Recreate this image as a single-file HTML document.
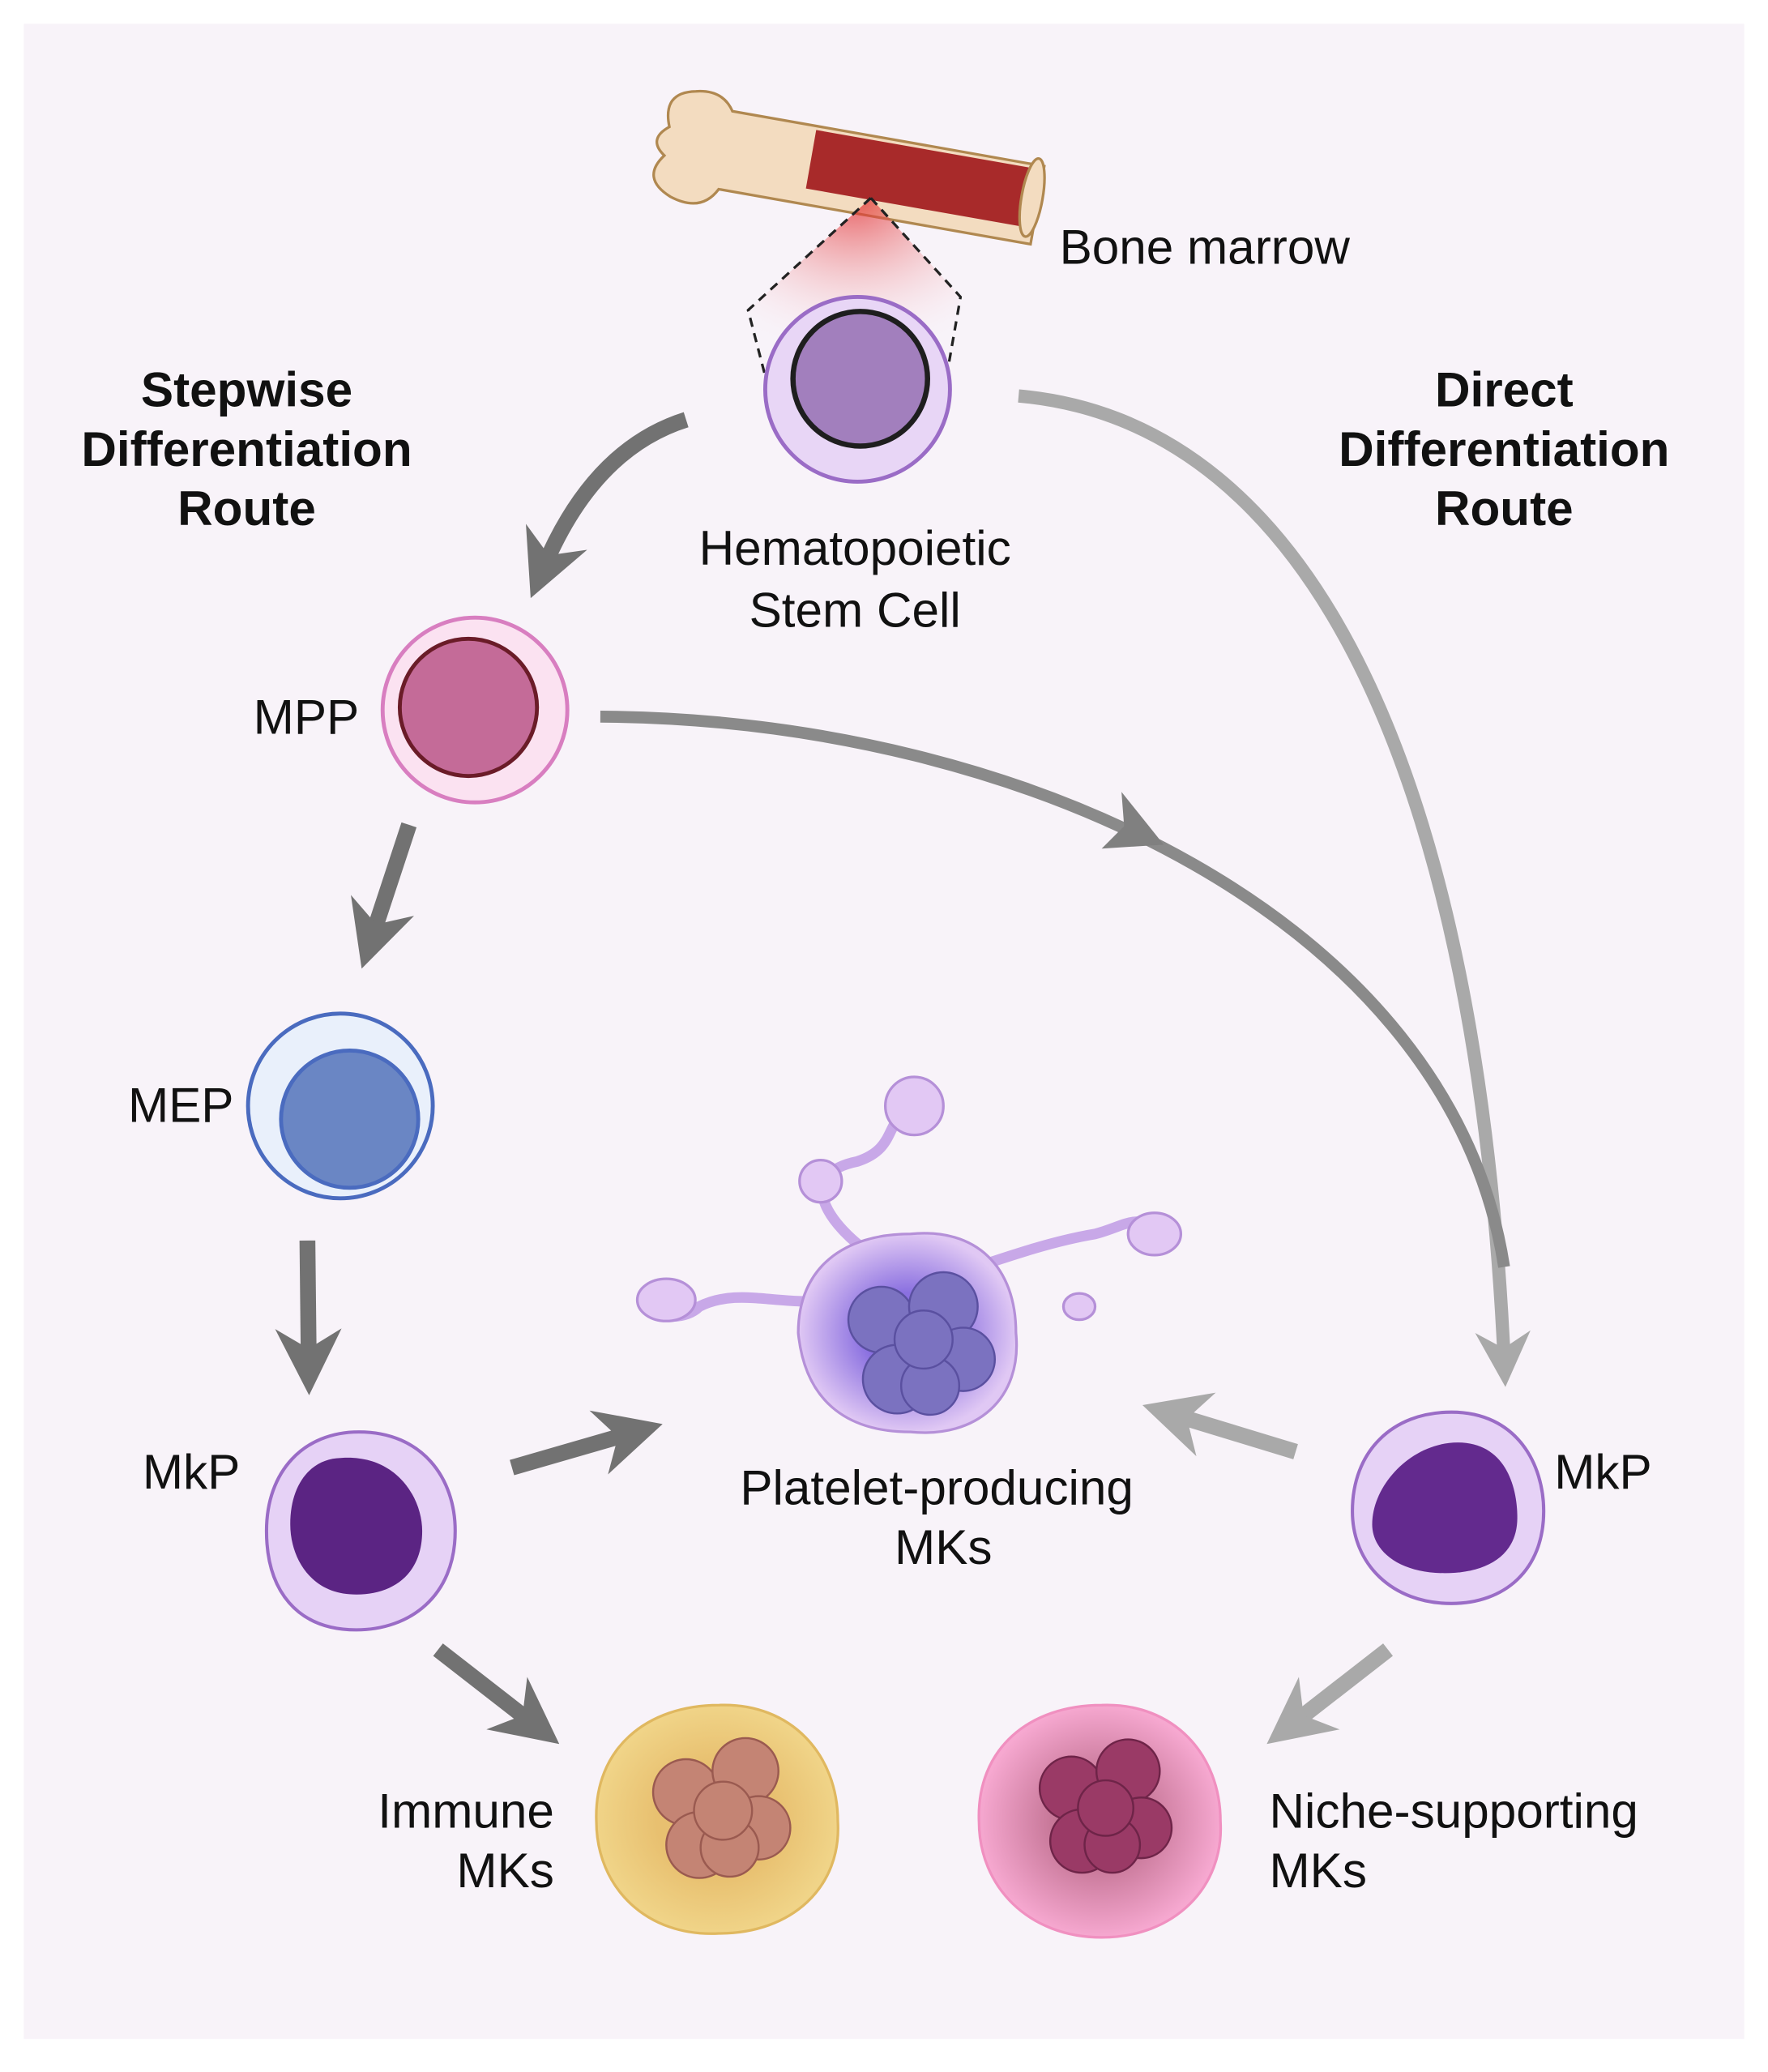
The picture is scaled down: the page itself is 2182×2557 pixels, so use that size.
<!DOCTYPE html>
<html><head><meta charset="utf-8"><style>
html,body{margin:0;padding:0;background:#fff;}
svg{display:block}
text{font-family:"Liberation Sans",Arial,sans-serif;fill:#111}
</style></head><body>
<svg width="2182" height="2557" viewBox="0 0 1340 1570" preserveAspectRatio="none" xmlns="http://www.w3.org/2000/svg">
<defs>
<marker id="ad" viewBox="0 0 10 10" refX="5" refY="5" markerWidth="4.2" markerHeight="4.2" orient="auto" markerUnits="strokeWidth"><path d="M0,0 L10,5 L0,10 L3,5 Z" fill="#727272"/></marker>
<marker id="al" viewBox="0 0 10 10" refX="5" refY="5" markerWidth="4.2" markerHeight="4.2" orient="auto" markerUnits="strokeWidth"><path d="M0,0 L10,5 L0,10 L3,5 Z" fill="#a9a9a9"/></marker>
<radialGradient id="redg" cx="0.5" cy="0" r="0.9"><stop offset="0" stop-color="#e02020"/><stop offset="1" stop-color="#fbe8ee" stop-opacity="0"/></radialGradient>
<radialGradient id="plt" cx="0.5" cy="0.5" r="0.5"><stop offset="0.4" stop-color="#8a70e0"/><stop offset="1" stop-color="#e0c8f4"/></radialGradient>
<radialGradient id="imm" cx="0.5" cy="0.5" r="0.5"><stop offset="0.5" stop-color="#e8c070"/><stop offset="1" stop-color="#f0d488"/></radialGradient>
<radialGradient id="nic" cx="0.5" cy="0.5" r="0.5"><stop offset="0.3" stop-color="#c07090"/><stop offset="1" stop-color="#f6a8d0"/></radialGradient>
</defs>
<rect x="0" y="0" width="1340" height="1570" fill="#fff"/>
<rect x="18" y="18" width="1304" height="1527" fill="#f8f3f9"/>

<!-- bone -->
<g transform="rotate(10 640 150)">
<path d="M500,120 q-10,-25 15,-30 q20,-5 30,10 l240,0 l0,60 l-240,0 q-10,20 -35,12 q-25,-10 -10,-30 q-15,-10 0,-22 z" fill="#f3dcc0" stroke="#b08850" stroke-width="2"/>
<rect x="610" y="103" width="170" height="45" fill="#a82a2a"/>
<ellipse cx="780" cy="125" rx="8" ry="30" fill="#f3dcc0" stroke="#b08850" stroke-width="2"/>
</g>
<path d="M660,150 L728,225 L718,282 L585,282 L567,235 Z" fill="url(#redg)" opacity="0.7"/>
<path d="M660,150 L728,225 L718,282 M660,150 L567,235 L580,285" fill="none" stroke="#222" stroke-width="2" stroke-dasharray="7,5"/>
<text x="803" y="200" font-size="37">Bone marrow</text>

<!-- HSC -->
<circle cx="650" cy="295" r="70" fill="#e8d6f6" stroke="#9a6cc6" stroke-width="3"/>
<circle cx="652" cy="287" r="51" fill="#a27fbd" stroke="#1e1e1e" stroke-width="4"/>
<text x="648" y="428" font-size="37" text-anchor="middle">Hematopoietic</text>
<text x="648" y="475" font-size="37" text-anchor="middle">Stem Cell</text>

<text font-size="37" font-weight="bold" text-anchor="middle"><tspan x="187" y="308">Stepwise</tspan><tspan x="187" y="353">Differentiation</tspan><tspan x="187" y="398">Route</tspan></text>
<text font-size="37" font-weight="bold" text-anchor="middle"><tspan x="1140" y="308">Direct</tspan><tspan x="1140" y="353">Differentiation</tspan><tspan x="1140" y="398">Route</tspan></text>

<!-- long arrows -->
<path d="M772,300 C1000,320 1120,600 1140,1030" fill="none" stroke="#a9a9a9" stroke-width="10" marker-end="url(#al)"/>
<path d="M455,543 C780,545 1100,700 1140,960" fill="none" stroke="#8a8a8a" stroke-width="9"/>
<polygon points="882,640 835,643 852,626 850,600" fill="#808080"/>

<!-- MPP -->
<circle cx="360" cy="538" r="70" fill="#fbe2f1" stroke="#d87ec0" stroke-width="3"/>
<circle cx="355" cy="536" r="52" fill="#c46b98" stroke="#6a1c28" stroke-width="3"/>
<text x="192" y="556" font-size="37">MPP</text>

<!-- MEP -->
<circle cx="258" cy="838" r="70" fill="#e9f0fb" stroke="#4a6bbf" stroke-width="3"/>
<circle cx="265" cy="848" r="52" fill="#6a86c4" stroke="#4a6bbf" stroke-width="3"/>
<text x="97" y="850" font-size="37">MEP</text>

<!-- dark arrows -->
<path d="M520,318 Q450,340 412,430" fill="none" stroke="#727272" stroke-width="12" marker-end="url(#ad)"/>
<path d="M310,625 L282,710" fill="none" stroke="#727272" stroke-width="12" marker-end="url(#ad)"/>
<path d="M233,940 L234,1032" fill="none" stroke="#727272" stroke-width="12" marker-end="url(#ad)"/>
<path d="M388,1112 L478,1086" fill="none" stroke="#727272" stroke-width="12" marker-end="url(#ad)"/>
<path d="M332,1250 L404,1306" fill="none" stroke="#727272" stroke-width="12" marker-end="url(#ad)"/>
<path d="M982,1100 L890,1072" fill="none" stroke="#a9a9a9" stroke-width="12" marker-end="url(#al)"/>
<path d="M1052,1250 L980,1306" fill="none" stroke="#a9a9a9" stroke-width="12" marker-end="url(#al)"/>

<!-- MkP left -->
<path d="M272,1085 C320,1085 345,1120 345,1160 C345,1210 310,1235 270,1235 C225,1235 202,1205 202,1160 C202,1115 230,1085 272,1085 Z" fill="#e6d2f6" stroke="#9a6cc6" stroke-width="2.5"/>
<path d="M255,1105 C300,1100 320,1135 320,1160 C320,1195 295,1210 265,1208 C235,1206 220,1180 220,1155 C220,1125 235,1107 255,1105 Z" fill="#5b2483"/>
<text x="108" y="1128" font-size="37">MkP</text>

<!-- MkP right -->
<path d="M1100,1070 C1150,1070 1170,1110 1170,1145 C1170,1190 1140,1215 1100,1215 C1055,1215 1025,1185 1025,1145 C1025,1100 1055,1070 1100,1070 Z" fill="#e6d2f6" stroke="#9a6cc6" stroke-width="2.5"/>
<path d="M1105,1093 C1140,1093 1150,1125 1150,1150 C1150,1180 1125,1192 1095,1192 C1060,1192 1040,1175 1040,1155 C1040,1125 1070,1093 1105,1093 Z" fill="#632a8e"/>
<text x="1178" y="1128" font-size="37">MkP</text>

<!-- Platelet MK -->
<g fill="#e2c8f4" stroke="#b590d8" stroke-width="2">
<path d="M660,950 C630,930 600,890 650,880 C680,870 670,850 690,840" fill="none" stroke="#c8a8e8" stroke-width="8"/>
<circle cx="693" cy="838" r="22"/>
<circle cx="622" cy="895" r="16"/>
<path d="M740,960 C770,950 800,940 830,935 C850,930 860,920 875,930" fill="none" stroke="#c8a8e8" stroke-width="8"/>
<ellipse cx="875" cy="935" rx="20" ry="16"/>
<ellipse cx="818" cy="990" rx="12" ry="10"/>
<path d="M630,985 C590,990 560,975 530,990 C520,1000 500,1000 490,990" fill="none" stroke="#c8a8e8" stroke-width="8"/>
<ellipse cx="505" cy="985" rx="22" ry="16"/>
<path d="M690,935 C740,930 770,960 770,1010 C775,1060 740,1090 690,1085 C640,1085 610,1060 605,1010 C605,960 640,935 690,935 Z" fill="url(#plt)"/>
</g>
<g fill="#7b72c0" stroke="#5a50a0" stroke-width="1.5">
<circle cx="668" cy="1000" r="25"/><circle cx="715" cy="990" r="26"/><circle cx="730" cy="1030" r="24"/><circle cx="680" cy="1045" r="26"/><circle cx="705" cy="1050" r="22"/><circle cx="700" cy="1015" r="22"/>
</g>
<text x="710" y="1140" font-size="37" text-anchor="middle">Platelet-producing</text>
<text x="715" y="1185" font-size="37" text-anchor="middle">MKs</text>

<!-- Immune MK -->
<path d="M545,1292 C600,1290 635,1330 635,1380 C638,1430 600,1465 545,1465 C490,1468 452,1430 452,1380 C450,1325 490,1292 545,1292 Z" fill="url(#imm)" stroke="#e0b860" stroke-width="2"/>
<g fill="#c48474" stroke="#9a5a50" stroke-width="1.5">
<circle cx="520" cy="1358" r="25"/><circle cx="565" cy="1342" r="25"/><circle cx="575" cy="1385" r="24"/><circle cx="530" cy="1398" r="25"/><circle cx="553" cy="1400" r="22"/><circle cx="548" cy="1372" r="22"/>
</g>
<text x="420" y="1385" font-size="37" text-anchor="end">Immune</text>
<text x="420" y="1430" font-size="37" text-anchor="end">MKs</text>

<!-- Niche MK -->
<path d="M835,1292 C890,1290 925,1330 925,1380 C928,1430 890,1468 835,1468 C780,1468 742,1430 742,1380 C740,1325 780,1292 835,1292 Z" fill="url(#nic)" stroke="#f090c0" stroke-width="2"/>
<g fill="#9a3a66" stroke="#6e2448" stroke-width="1.5">
<circle cx="812" cy="1355" r="24"/><circle cx="855" cy="1342" r="24"/><circle cx="865" cy="1385" r="23"/><circle cx="820" cy="1395" r="24"/><circle cx="843" cy="1398" r="21"/><circle cx="838" cy="1370" r="21"/>
</g>
<text x="962" y="1385" font-size="37">Niche-supporting</text>
<text x="962" y="1430" font-size="37">MKs</text>
</svg>
</body></html>
